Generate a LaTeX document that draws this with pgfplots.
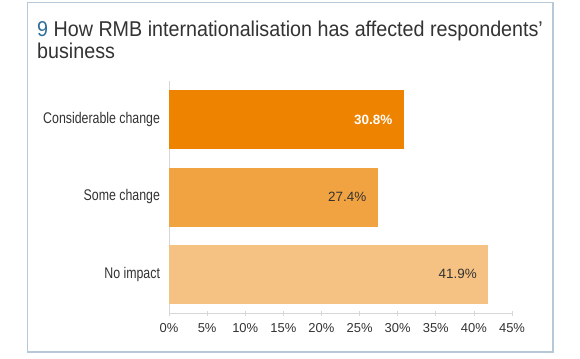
\documentclass[border=0pt]{standalone}
\usepackage{pgfplots}
\pgfplotsset{compat=1.18}
\usepackage{fontspec}
\setmainfont{Liberation Sans}
\newfontfamily\condfont[FakeStretch=0.8]{Liberation Sans}
\newfontfamily\titlefont[FakeStretch=0.92]{Liberation Sans}
\definecolor{frame}{HTML}{B7C9D9}
\definecolor{txt}{HTML}{333333}
\definecolor{numblue}{HTML}{2F6E9B}
\definecolor{barA}{HTML}{EE8300}
\definecolor{barB}{HTML}{F1A342}
\definecolor{barC}{HTML}{F5C283}
\definecolor{axgray}{HTML}{D6D6D6}
\begin{document}
\begin{tikzpicture}[x=1bp,y=1bp]
\path[use as bounding box, fill=white] (0,0) rectangle (580,358);
\draw[frame, line width=1.6bp] (27.5,355.5) rectangle (553,6);
\node[anchor=base west, inner sep=0pt, font=\titlefont\fontsize{21.5}{24}\selectfont, text=txt] at (37,322) {\textcolor{numblue}{9} How RMB internationalisation has affected respondents’};
\node[anchor=base west, inner sep=0pt, font=\titlefont\fontsize{21.5}{24}\selectfont, text=txt] at (37,299.5) {business};
\begin{axis}[
  at={(169bp,45bp)}, anchor=south west,
  width=343bp, height=232bp, scale only axis,
  xmin=0, xmax=45, ymin=-0.5, ymax=2.5, y dir=reverse,
  xbar, bar width=59bp, bar shift=0pt,
  axis x line=bottom, axis y line=left,
  axis line style={draw=axgray, line width=0.8bp, -},
  xtick={0,5,...,45},
  xticklabel={\pgfmathprintnumber{\tick}\%},
  /pgf/number format/assume math mode=true,
  ytick={0,1,2},
  yticklabels={Considerable change, Some change, No impact},
  tick style={draw=axgray, line width=0.6bp},
  xtick align=center, major tick length=5bp,
  ytick style={draw=none},
  xticklabel style={font=\fontsize{13}{15}\selectfont, text=txt, yshift=-4bp},
  yticklabel style={font=\condfont\fontsize{15.5}{17}\selectfont, text=txt, xshift=-3bp},
  nodes near coords={\pgfmathprintnumber[fixed, precision=1, fixed zerofill]{\pgfplotspointmeta}\%},
  nodes near coords style={anchor=east, xshift=-8bp, font=\fontsize{13.5}{16}\selectfont, text=txt, /pgf/number format/assume math mode=true},
  clip=false,
]
\addplot[fill=barA, draw=none, nodes near coords style={text=white, font=\fontsize{13.5}{16}\selectfont\bfseries}] coordinates {(30.8,0)};
\addplot[fill=barB, draw=none] coordinates {(27.4,1)};
\addplot[fill=barC, draw=none] coordinates {(41.9,2)};
\end{axis}
\end{tikzpicture}
\end{document}
